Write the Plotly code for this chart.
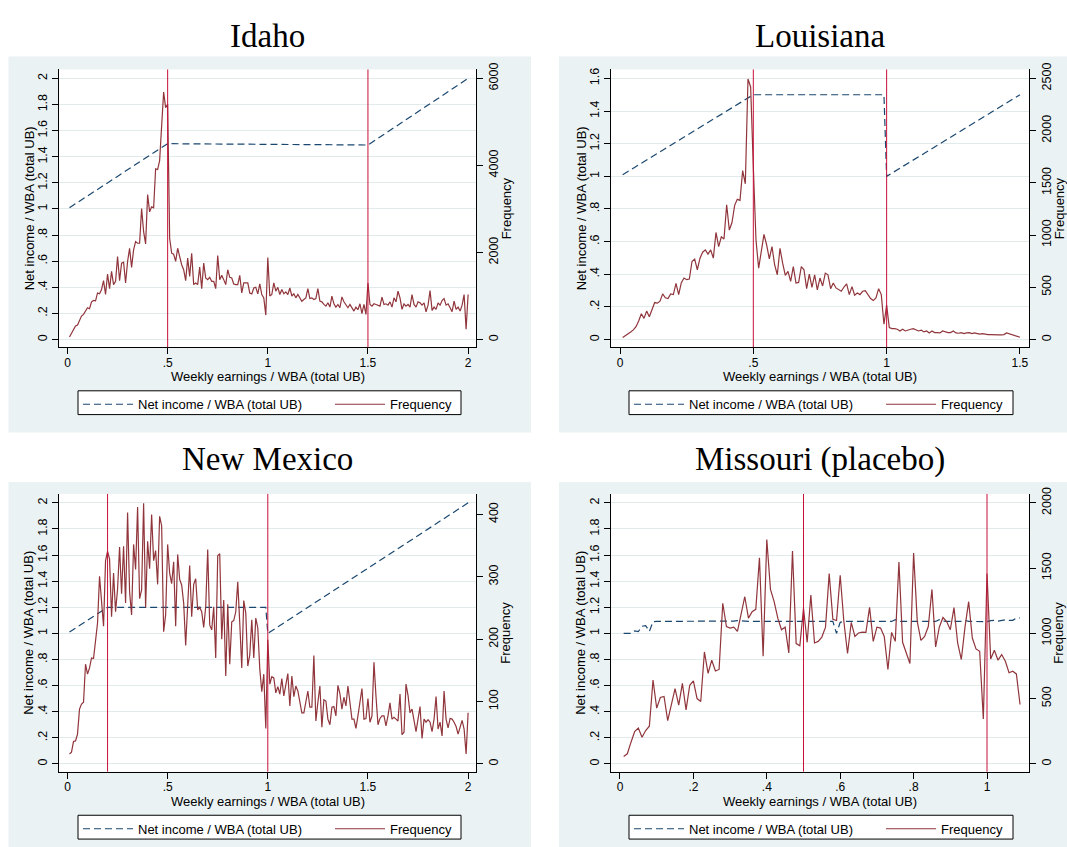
import plotly.graph_objects as go

# ---------------- data ----------------
BIN = 0.01  # histogram bin width (earnings / WBA)

idaho_freq = [
    60, 137, 220, 310, 335, 425, 540, 578, 640, 730,
    707, 866, 897, 890, 1070, 1050, 1150, 1353, 1034, 1505,
    1170, 1565, 1262, 1338, 1908, 1353, 1756, 1778, 1300, 1794,
    2098, 1657, 2060, 2250, 2212, 2212, 3010, 2478, 2196, 3329,
    2934, 3048, 3025, 3922, 3906, 4112, 4910, 5685, 5328, 5404,
    2325, 1984, 1960, 1794, 2098, 1870, 1718, 1604, 1353, 1870,
    1452, 1984, 1262, 1300, 1262, 1664, 1170, 1756, 1414, 1376,
    1429, 1338, 1338, 1170, 1930, 1376, 1474, 1376, 1262, 1604,
    1429, 1414, 1277, 1262, 1262, 1474, 1070, 1300, 1300, 1300,
    1070, 1050, 1185, 1200, 1050, 1277, 1034, 958, 562, 1885,
    1000, 1034, 1300, 1110, 1200, 1034, 1148, 1050, 1094, 1034,
    1185, 1000, 1050, 958, 1034, 942, 880, 920, 958, 1170,
    942, 958, 920, 942, 1170, 882, 866, 806, 768, 844,
    745, 996, 821, 745, 806, 730, 980, 866, 790, 730,
    806, 714, 654, 745, 684, 821, 593, 806, 578, 1300,
    806, 768, 821, 806, 790, 768, 973, 806, 821, 790,
    866, 745, 958, 866, 1110, 958, 692, 821, 768, 806,
    745, 1034, 806, 745, 866, 844, 790, 844, 638, 790,
    1125, 669, 745, 692, 844, 790, 897, 942, 790, 821,
    730, 638, 882, 692, 745, 654, 790, 1034, 236, 1034,
]
idaho_net_x = [0.01, 0.50, 1.50, 2.00]
idaho_net_y = [1.01, 1.50, 1.49, 2.00]
idaho_cutoffs = [0.5, 1.5]

louisiana_freq = [
    19, 35, 57, 73, 92, 123, 177, 247, 203, 272,
    218, 285, 354, 348, 367, 437, 399, 392, 437, 430,
    538, 430, 544, 589, 573, 579, 747, 769, 668, 779,
    836, 858, 817, 858, 779, 1025, 889, 984, 962, 1291,
    1048, 1120, 1285, 1342, 1332, 1617, 1491, 2494, 2418, 1650,
    953, 684, 842, 1006, 905, 772, 889, 715, 620, 873,
    731, 614, 652, 557, 699, 541, 547, 699, 668, 487,
    627, 500, 620, 475, 589, 513, 636, 620, 487, 541,
    494, 478, 462, 503, 532, 430, 506, 424, 446, 430,
    462, 468, 430, 392, 373, 399, 487, 430, 146, 329,
    114, 104, 104, 98, 82, 98, 82, 92, 98, 104,
    92, 82, 89, 73, 82, 63, 82, 66, 66, 63,
    82, 73, 66, 66, 82, 63, 60, 66, 57, 63,
    66, 57, 63, 57, 51, 57, 51, 47, 47, 44,
    44, 44, 44, 47, 63, 54, 44, 35, 25, 22,
]
louisiana_net_x = [0.01, 0.50, 0.99, 1.00, 1.50]
louisiana_net_y = [1.01, 1.50, 1.50, 1.00, 1.50]
louisiana_cutoffs = [0.5, 1.0]

newmexico_freq = [
    16, 19, 36, 37, 48, 88, 96, 99, 160, 144,
    154, 170, 169, 197, 226, 301, 252, 221, 326, 341,
    329, 236, 306, 244, 281, 348, 273, 349, 258, 403,
    276, 239, 352, 312, 412, 265, 279, 418, 251, 357,
    313, 400, 326, 342, 288, 397, 382, 212, 239, 352,
    306, 289, 324, 221, 336, 296, 287, 258, 190, 252,
    318, 236, 288, 297, 247, 251, 244, 219, 252, 344,
    223, 215, 252, 170, 334, 337, 200, 263, 141, 256,
    160, 228, 230, 244, 292, 226, 154, 262, 242, 157,
    175, 231, 170, 234, 218, 152, 116, 144, 57, 199,
    128, 140, 138, 114, 124, 112, 137, 109, 131, 145,
    93, 141, 108, 125, 117, 96, 82, 82, 99, 117,
    91, 91, 174, 69, 99, 125, 59, 103, 101, 72,
    63, 91, 92, 77, 126, 113, 88, 107, 93, 125,
    99, 72, 72, 57, 77, 99, 121, 72, 73, 105,
    67, 77, 163, 109, 63, 73, 77, 77, 61, 77,
    98, 72, 75, 72, 69, 112, 47, 51, 128, 110,
    82, 88, 67, 52, 72, 92, 41, 72, 67, 71,
    67, 52, 72, 108, 56, 67, 45, 117, 72, 58,
    73, 72, 67, 60, 48, 60, 70, 56, 16, 82,
]
newmexico_net_x = [0.01, 0.20, 0.99, 1.00, 2.00]
newmexico_net_y = [1.01, 1.20, 1.20, 1.00, 2.00]
newmexico_cutoffs = [0.2, 1.0]

missouri_freq = [
    58, 78, 167, 248, 276, 205, 256, 289, 643, 428,
    509, 517, 332, 458, 577, 451, 618, 415, 603, 636,
    501, 479, 858, 694, 795, 712, 724, 1231, 1053, 1041,
    1048, 1015, 1142, 1281, 1117, 1167, 1185, 1580, 825, 1719,
    1337, 1243, 1117, 1028, 1048, 851, 1631, 922, 906, 1193,
    932, 1294, 927, 939, 972, 1048, 1458, 1109, 1099, 1446,
    1091, 846, 1084, 977, 1003, 1010, 1008, 1200, 939, 1048,
    1041, 977, 724, 1008, 939, 1547, 932, 851, 770, 1615,
    1091, 947, 977, 1053, 1337, 896, 1048, 1122, 1091, 1028,
    1198, 927, 800, 1048, 1243, 965, 881, 863, 344, 1458,
    805, 871, 795, 838, 787, 699, 711, 690, 456,
]
missouri_net_y = [
    1.000, 1.000, 1.000, 1.020, 1.015, 1.055, 1.060, 1.015, 1.090, 1.092,
    1.092, 1.092, 1.092, 1.092, 1.092, 1.092, 1.092, 1.092, 1.092, 1.092,
    1.092, 1.092, 1.092, 1.092, 1.092, 1.092, 1.092, 1.092, 1.092, 1.092,
    1.095, 1.098, 1.095, 1.092, 1.092, 1.092, 1.092, 1.092, 1.092, 1.092,
    1.092, 1.092, 1.092, 1.092, 1.092, 1.092, 1.092, 1.092, 1.092, 1.092,
    1.092, 1.092, 1.092, 1.092, 1.092, 1.092, 1.092, 1.092, 1.000, 1.085,
    1.092, 1.092, 1.092, 1.092, 1.092, 1.092, 1.092, 1.092, 1.092, 1.092,
    1.092, 1.092, 1.092, 1.092, 1.105, 1.092, 1.092, 1.092, 1.092, 1.092,
    1.092, 1.092, 1.092, 1.092, 1.092, 1.092, 1.105, 1.095, 1.092, 1.092,
    1.092, 1.092, 1.092, 1.100, 1.092, 1.092, 1.092, 1.092, 1.088, 1.090,
    1.098, 1.100, 1.095, 1.100, 1.105, 1.100, 1.100, 1.118, 1.118,
]
missouri_cutoffs = [0.5, 1.0]

# tick labels
ratio_ticks_2 = [0, 0.2, 0.4, 0.6, 0.8, 1.0, 1.2, 1.4, 1.6, 1.8, 2.0]
ratio_text_2 = ["0", ".2", ".4", ".6", ".8", "1", "1.2", "1.4", "1.6", "1.8", "2"]
ratio_ticks_16 = [0, 0.2, 0.4, 0.6, 0.8, 1.0, 1.2, 1.4, 1.6]
ratio_text_16 = ["0", ".2", ".4", ".6", ".8", "1", "1.2", "1.4", "1.6"]
x_ticks_half = [0, 0.5, 1.0, 1.5, 2.0]
x_text_half = ["0", ".5", "1", "1.5", "2"]
x_ticks_la = [0, 0.5, 1.0, 1.5]
x_text_la = ["0", ".5", "1", "1.5"]
x_ticks_mo = [0, 0.2, 0.4, 0.6, 0.8, 1.0]
x_text_mo = ["0", ".2", ".4", ".6", ".8", "1"]
freq_ticks_id = [0, 2000, 4000, 6000]
freq_ticks_la = [0, 500, 1000, 1500, 2000, 2500]
freq_ticks_nm = [0, 100, 200, 300, 400]
freq_ticks_mo = [0, 500, 1000, 1500, 2000]


def bins_for(values):
    return [round(BIN * (i + 1), 2) for i in range(len(values))]


# ---------------- style / layout ----------------
W, H = 1067, 847
SANS = "Liberation Sans, Arial, Helvetica, sans-serif"
SERIF = "Liberation Serif, Times New Roman, serif"
NAVY = "#1A476F"
MAROON = "#90353B"
VLINE = "#C8103A"
BG = "#EAF2F3"
GRID = "#E2EBEB"


def fx(p):
    return p / W


def fy(p):
    return 1 - p / H


panels = [
    dict(title="Idaho", freq=idaho_freq, net_x=idaho_net_x, net_y=idaho_net_y,
         cut=idaho_cutoffs, xt=x_ticks_half, xl=x_text_half, xr=[-0.0424, 2.0394],
         yt=ratio_ticks_2, yl=ratio_text_2, yr=[-0.0585, 2.0684],
         rt=freq_ticks_id, rscale=3000.0,
         box=(59, 476, 63, 343), grey=(8.5, 50, 531, 429), ty=29,
         leg=(78, 387, 461, 411)),
    dict(title="Louisiana", freq=louisiana_freq, net_x=louisiana_net_x, net_y=louisiana_net_y,
         cut=louisiana_cutoffs, xt=x_ticks_la, xl=x_text_la, xr=[-0.0338, 1.534],
         yt=ratio_ticks_16, yl=ratio_text_16, yr=[-0.0468, 1.6547],
         rt=freq_ticks_la, rscale=1562.5,
         box=(611, 1029, 63, 343), grey=(559, 50, 1067, 429), ty=29,
         leg=(629, 387, 1013, 411)),
    dict(title="New Mexico", freq=newmexico_freq, net_x=newmexico_net_x, net_y=newmexico_net_y,
         cut=newmexico_cutoffs, xt=x_ticks_half, xl=x_text_half, xr=[-0.0424, 2.0394],
         yt=ratio_ticks_2, yl=ratio_text_2, yr=[-0.0585, 2.0684],
         rt=freq_ticks_nm, rscale=209.3,
         box=(59, 476, 491, 771), grey=(8.5, 479, 531, 847), ty=456,
         leg=(78, 815, 461, 839)),
    dict(title="Missouri (placebo)", freq=missouri_freq, net_x=None, net_y=missouri_net_y,
         cut=missouri_cutoffs, xt=x_ticks_mo, xl=x_text_mo, xr=[-0.0245, 1.1144],
         yt=ratio_ticks_2, yl=ratio_text_2, yr=[-0.0585, 2.0684],
         rt=freq_ticks_mo, rscale=1000.0,
         box=(611, 1029, 491, 771), grey=(559, 479, 1067, 847), ty=456,
         leg=(629, 815, 1013, 839)),
]

fig = go.Figure()
layout = dict(
    width=W, height=H, margin=dict(l=0, r=0, t=0, b=0),
    paper_bgcolor="white", plot_bgcolor="white", showlegend=True,
    font=dict(family=SANS, size=13, color="black"),
    hovermode=False,
)
shapes, annotations = [], []
tickfont = dict(family=SANS, size=12.5, color="black")
axis_common = dict(showline=True, linecolor="black", linewidth=1, ticks="outside",
                   ticklen=6, tickwidth=1, tickcolor="black", zeroline=False,
                   tickfont=tickfont, fixedrange=True)

for k, p in enumerate(panels):
    xa = "x" if k == 0 else f"x{k + 1}"
    yl = "y" if k == 0 else f"y{2 * k + 1}"
    yr = f"y{2 * k + 2}"
    xkey = "xaxis" if k == 0 else f"xaxis{k + 1}"
    ylkey = "yaxis" if k == 0 else f"yaxis{2 * k + 1}"
    yrkey = f"yaxis{2 * k + 2}"
    lkey = "legend" if k == 0 else f"legend{k + 1}"
    x0, x1, y0, y1 = p["box"]
    bins = bins_for(p["freq"])
    net_x = p["net_x"] if p["net_x"] is not None else bins_for(p["net_y"])

    fig.add_trace(go.Scatter(
        x=net_x, y=p["net_y"], mode="lines", name="Net income / WBA (total UB)",
        line=dict(color=NAVY, width=1.2, dash="7px,4px"),
        xaxis=xa, yaxis=yl, legend=lkey, legendwidth=187, hoverinfo="skip"))
    fig.add_trace(go.Scatter(
        x=bins, y=p["freq"], mode="lines", name="Frequency",
        line=dict(color=MAROON, width=1.2),
        xaxis=xa, yaxis=yr, legend=lkey, legendwidth=66, hoverinfo="skip"))

    layout[xkey] = dict(axis_common, domain=[fx(x0), fx(x1)], range=p["xr"], anchor=yl,
                        tickvals=p["xt"], ticktext=p["xl"], showgrid=False,
                        tickfont=dict(family=SANS, size=12, color="black"),
                        ticklabelstandoff=-2)
    layout[ylkey] = dict(axis_common, domain=[fy(y1), fy(y0)], range=p["yr"], anchor=xa,
                         tickvals=p["yt"], ticktext=p["yl"], tickangle=-90,
                         showgrid=True, gridcolor=GRID, gridwidth=1)
    layout[yrkey] = dict(axis_common, overlaying=yl, side="right", anchor=xa,
                         range=[v * p["rscale"] for v in p["yr"]],
                         tickvals=p["rt"], ticktext=[str(v) for v in p["rt"]],
                         tickangle=-90, showgrid=False)

    g0, g1, g2, g3 = p["grey"]
    shapes.append(dict(type="rect", xref="paper", yref="paper", x0=fx(g0), x1=fx(g2),
                       y0=fy(g3), y1=fy(g1), fillcolor=BG, line=dict(width=0), layer="below"))
    shapes.append(dict(type="rect", xref=f"{xa} domain", yref=f"{yl} domain", x0=0, x1=1,
                       y0=0, y1=1, fillcolor="white", line=dict(width=0), layer="below"))
    lb0, lb1, lb2, lb3 = p["leg"]
    shapes.append(dict(type="rect", xref="paper", yref="paper", x0=fx(lb0), x1=fx(lb2),
                       y0=fy(lb3), y1=fy(lb1), fillcolor="white",
                       line=dict(color="black", width=1), layer="below"))
    for c in p["cut"]:
        shapes.append(dict(type="line", xref=xa, yref=f"{yl} domain", x0=c, x1=c, y0=0, y1=1,
                           line=dict(color=VLINE, width=1), layer="above"))

    layout[lkey] = dict(x=fx(lb0), y=fy((lb1 + lb3) / 2 - 13.5), xanchor="left", yanchor="top",
                        orientation="h", bgcolor="rgba(0,0,0,0)", borderwidth=0,
                        itemwidth=50, font=dict(family=SANS, size=13, color="black"),
                        itemclick=False, itemdoubleclick=False)

    cx = (x0 + x1) / 2
    cy = (y0 + y1) / 2
    annotations.append(dict(text=p["title"], x=fx(cx), y=fy(p["ty"]), xref="paper", yref="paper",
                            showarrow=False, xanchor="center", yanchor="middle",
                            font=dict(family=SERIF, size=33, color="black")))
    annotations.append(dict(text="Weekly earnings / WBA (total UB)", x=fx(cx), y=fy(y1 + 30),
                            xref="paper", yref="paper", showarrow=False,
                            xanchor="center", yanchor="middle",
                            font=dict(family=SANS, size=13, color="black")))
    annotations.append(dict(text="Net income / WBA (total UB)", x=fx(x0 - 30), y=fy(cy),
                            xref="paper", yref="paper", showarrow=False, textangle=-90,
                            xanchor="center", yanchor="middle",
                            font=dict(family=SANS, size=13, color="black")))
    annotations.append(dict(text="Frequency", x=fx(x1 + 30), y=fy(cy),
                            xref="paper", yref="paper", showarrow=False, textangle=-90,
                            xanchor="center", yanchor="middle",
                            font=dict(family=SANS, size=13, color="black")))

layout["shapes"] = shapes
layout["annotations"] = annotations
fig.update_layout(**layout)

fig.write_html("out.html", config={"displayModeBar": False, "staticPlot": True},
               post_script="document.body.style.margin='0';document.body.style.overflow='hidden';")
